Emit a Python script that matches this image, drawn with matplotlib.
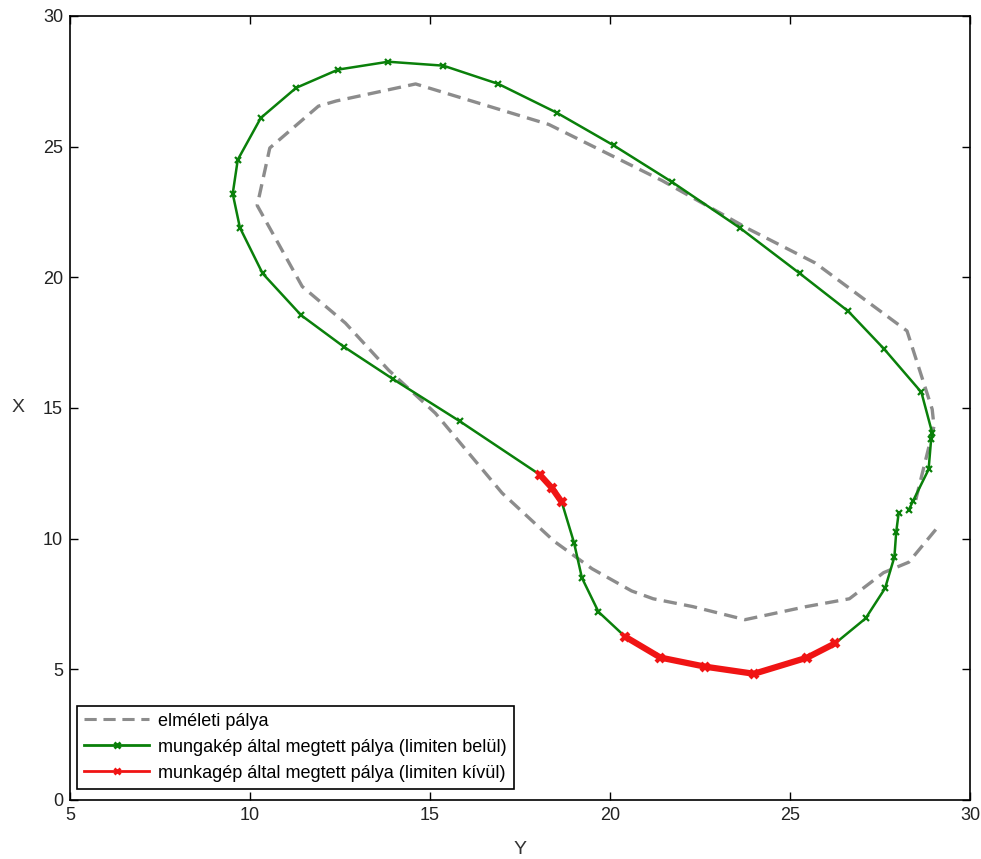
import matplotlib
matplotlib.use("Agg")
import matplotlib.pyplot as plt
from matplotlib.lines import Line2D
import numpy as np

plt.rcParams['font.family'] = ['Liberation Sans', 'DejaVu Sans']

# theoretical path (Y, X)
theo_Y = [29.05, 28.3, 27.6, 26.65, 25.45, 23.75, 22.3, 21.2, 20.6, 19.5, 18.45,
          17.0, 15.15, 13.85, 12.65, 11.45, 10.2, 10.55, 11.9, 12.4, 14.6,
          18.3, 21.45, 23.85, 25.7, 28.25, 28.95, 29.0, 28.45]
theo_X = [10.35, 9.1, 8.7, 7.7, 7.4, 6.9, 7.4, 7.7, 8.0, 8.85, 9.9,
          11.75, 14.8, 16.45, 18.25, 19.65, 22.75, 24.95, 26.55, 26.75, 27.4,
          25.85, 23.7, 21.85, 20.55, 17.95, 14.95, 14.3, 11.25]

# travelled path within limits (Y, X)
green_Y = [28.3, 28.42, 28.85, 28.92, 28.95, 28.65, 27.62, 26.62, 25.27, 23.6, 21.72,
           20.1, 18.52, 16.9, 15.37, 13.84, 12.45, 11.28, 10.3, 9.66, 9.52, 9.72,
           10.35, 11.42, 12.6, 13.98, 15.82, 18.05, 18.66, 19.0, 19.22, 19.68,
           20.42, 21.4, 22.65, 24.0, 25.48, 26.26, 27.1, 27.64, 27.9, 27.95, 28.02]
green_X = [11.1, 11.45, 12.65, 13.8, 14.05, 15.6, 17.25, 18.7, 20.15, 21.9, 23.65,
           25.05, 26.3, 27.4, 28.1, 28.25, 27.95, 27.25, 26.1, 24.5, 23.2, 21.9,
           20.15, 18.55, 17.35, 16.1, 14.5, 12.45, 11.4, 9.85, 8.5, 7.2,
           6.25, 5.45, 5.1, 4.83, 5.45, 6.0, 6.95, 8.1, 9.3, 10.25, 11.0]

# travelled path outside limits (two segments, NaN separated)
red_Y = [18.05, 18.38, 18.66, np.nan, 20.42, 21.4, 22.65, 24.0, 25.48, 26.26]
red_X = [12.45, 11.95, 11.4, np.nan, 6.25, 5.45, 5.1, 4.83, 5.45, 6.0]

green_c = '#0a800a'
red_c = '#f01414'
gray_c = '#8c8c8c'

fig = plt.figure(figsize=(9.81, 8.59), dpi=100)
ax = fig.add_axes([70/981, 1-800/859, 900/981, 784/859])

ax.plot(theo_Y, theo_X, linestyle=(0, (4, 2.2)), color=gray_c, lw=2.4)
ax.plot(green_Y, green_X, color=green_c, lw=1.8, marker='x', ms=5, mew=1.6)
ax.plot(red_Y, red_X, color=red_c, lw=4.5, marker='x', ms=6, mew=3,
        solid_capstyle='round')

ax.set_xlim(5, 30)
ax.set_ylim(0, 30)
ax.set_xticks([5, 10, 15, 20, 25, 30])
ax.set_yticks([0, 5, 10, 15, 20, 25, 30])
ax.tick_params(direction='in', top=True, right=True, length=6, width=1,
               labelsize=13, labelcolor='#222222', pad=5)
for s in ax.spines.values():
    s.set_linewidth(1.2)
ax.set_xlabel('Y', fontsize=14, color='#333333', labelpad=12)
ax.set_ylabel('X', fontsize=14, color='#333333', labelpad=18, rotation=0,
              va='center')

handles = [
    Line2D([], [], linestyle=(0, (4, 2.2)), color=gray_c, lw=2.2),
    Line2D([], [], color=green_c, lw=2, marker='x', ms=5, mew=2),
    Line2D([], [], color=red_c, lw=2, marker='x', ms=5, mew=2),
]
labels = ['elméleti pálya',
          'mungakép által megtett pálya (limiten belül)',
          'munkagép által megtett pálya (limiten kívül)']
leg = ax.legend(handles, labels, loc='lower left', bbox_to_anchor=(7/900, 11/784),
                borderaxespad=0, fancybox=False, edgecolor='black', fontsize=13,
                handlelength=3.6, handletextpad=0.5, borderpad=0.4,
                labelspacing=0.5, framealpha=1)
leg.get_frame().set_linewidth(1.2)

fig.savefig('out.png', dpi=100)
